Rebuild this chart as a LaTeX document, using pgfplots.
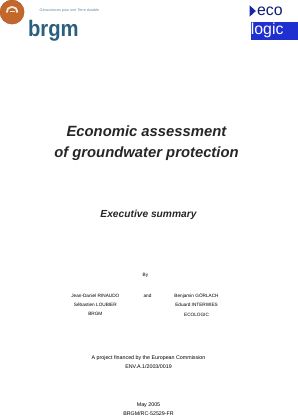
\documentclass[border=0pt]{standalone}
\usepackage{pgfplots}
\pgfplotsset{compat=1.18}
\usepackage{fontspec}
\setmainfont{Liberation Sans}
\definecolor{brgmorange}{HTML}{C4672A}
\definecolor{brgmblue}{HTML}{2A5F7E}
\definecolor{ecoblue}{HTML}{1F2FD0}
\begin{document}
\begin{tikzpicture}
\begin{axis}[
  set layers,
  scale only axis, width=296pt, height=419pt,
  xmin=0, xmax=296, ymin=0, ymax=419, y dir=reverse,
  hide axis, clip=false]
% brgm logo circle
\addplot[only marks, mark=*, mark size=11.8pt, draw=brgmorange!85!black, fill=brgmorange] coordinates {(16.5,16.5)};
\addplot[on layer=axis foreground, white!85!brgmorange, line width=1.8pt, smooth, no marks] coordinates {(11.5,17) (12.5,13.2) (16.5,11.6) (20.5,13.2) (21.5,17)};
\addplot[on layer=axis foreground, white!85!brgmorange, line width=0.9pt, no marks] coordinates {(14,15.5) (19,15.5)};
\node[anchor=west, text=brgmblue!75, font=\fontsize{3.6}{4}\selectfont] at (axis cs:40,15) {Géosciences pour une Terre durable};
\node[anchor=base west, text=brgmblue, font=\bfseries\fontsize{22}{22}\selectfont, inner sep=0pt, xscale=0.9] at (axis cs:32,40) {brgm};
% ecologic logo
\fill[ecoblue] (axis cs:250,26.5) rectangle (axis cs:296,43.5);
\fill[ecoblue!80!black] (axis cs:249,10) -- (axis cs:255,15.5) -- (axis cs:249,21) -- cycle;
\node[anchor=west, text=ecoblue!55!black, font=\fontsize{15.5}{15}\selectfont, inner sep=0pt] at (axis cs:256,16) {eco};
\node[anchor=west, text=white, font=\fontsize{15.5}{15}\selectfont, inner sep=0pt] at (axis cs:250,34) {logic};
% titles
\node[font=\bfseries\itshape\fontsize{14.5}{20}\selectfont, align=center, text=black!85] at (axis cs:148,145) {Economic assessment\\of groundwater protection};
\node[font=\bfseries\itshape\fontsize{10}{12}\selectfont, text=black!85] at (axis cs:150,215) {Executive summary};
% authors
\node[font=\fontsize{4.6}{5.5}\selectfont] at (axis cs:147,274) {By};
\node[font=\fontsize{4.6}{9}\selectfont, align=center] at (axis cs:98,303) {Jean-Daniel RINAUDO\\Sébastien LOUBIER\\BRGM};
\node[font=\fontsize{4.6}{5.5}\selectfont] at (axis cs:149,294) {and};
\node[font=\fontsize{4.6}{9}\selectfont, align=center] at (axis cs:197,303) {Benjamin GÖRLACH\\Eduard INTERWIES\\ECOLOGIC};
% project
\node[font=\fontsize{5.2}{8}\selectfont, align=center] at (axis cs:150,359) {A project financed by the European Commission\\ENV.A.1/2003/0019};
\node[font=\fontsize{5.2}{9}\selectfont, align=center] at (axis cs:150,405) {May 2005\\BRGM/RC-52529-FR};
\end{axis}
\end{tikzpicture}
\end{document}
